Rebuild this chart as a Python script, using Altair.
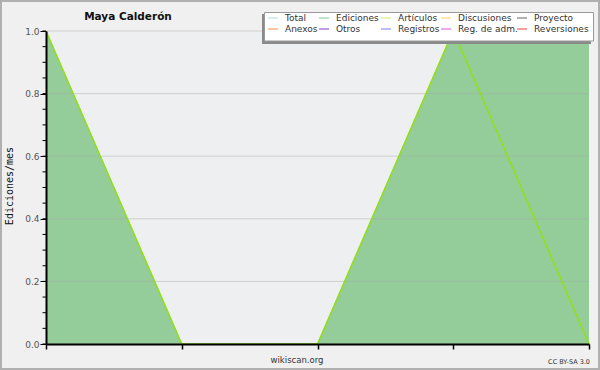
import altair as alt
import pandas as pd

# ---------------- data ----------------
MONTH_INDEX = [0, 1, 2, 3, 4]
EDICIONES = [1.0, 0.0, 0.0, 1.0, 1.0]
ARTICULOS = [1.0, 0.0, 0.0, 1.0, 0.0]
Y_MAJOR = [0.0, 0.2, 0.4, 0.6, 0.8, 1.0]
Y_MINOR = [round(i * 0.05, 2) for i in range(21)]

LEGEND_LABELS = ["Total", "Ediciones", "Artículos", "Discusiones", "Proyecto",
                 "Anexos", "Otros", "Registros", "Reg. de adm.", "Reversiones"]
LEGEND_COLORS = ["#a8dede", "#7fc98c", "#cdee6e", "#ffd066", "#666666",
                 "#ff8a4a", "#8a3acc", "#7a7aee", "#de4ede", "#ee3b3b"]

TITLE = "Maya Calderón"
Y_TITLE = "Ediciones/mes"

# ---------------- layout constants ----------------
W, H = 543, 313
PAD = {"left": 46, "top": 31, "right": 11, "bottom": 26}
COL_SWATCH_X = [222, 273, 335, 395, 471]   # relative to plot origin
ROW_Y = [-13, -2]

df = pd.DataFrame({"i": MONTH_INDEX, "ed": EDICIONES, "art": ARTICULOS})

xs = alt.Scale(domain=[0, 4], nice=False, zero=False)
ys = alt.Scale(domain=[0, 1], nice=False)

FONT = "DejaVu Sans"

one = pd.DataFrame({"a": [0]})

border = alt.Chart(one).mark_rect(fill="#f0f0f0", stroke="#b0b0b0", strokeWidth=2, clip=False).encode(
    x=alt.value(-45), x2=alt.value(553), y=alt.value(-30), y2=alt.value(338)
)
plotbg = alt.Chart(one).mark_rect(fill="#eeeff1", clip=False).encode(
    x=alt.value(0), x2=alt.value(W), y=alt.value(0), y2=alt.value(H)
)

area = alt.Chart(df).mark_area(color="#94cc9a", opacity=1,
                               line={"color": "#7fc48a", "strokeWidth": 1}).encode(
    x=alt.X("i:Q", scale=xs, axis=alt.Axis(values=MONTH_INDEX, labels=False, title=None,
                                           grid=False, tickSize=5, tickColor="black",
                                           tickWidth=1.5, zindex=2,
                                           domainColor="black", domainWidth=2)),
    y=alt.Y("ed:Q", scale=ys, axis=alt.Axis(values=Y_MAJOR, format=".1f", title=None,
                                            grid=False, tickSize=6, zindex=2,
                                            tickColor="black", domainColor="black",
                                            domainWidth=2, labelFont=FONT, labelFontSize=9,
                                            labelColor="#555555", labelPadding=1)),
)

grid = alt.Chart(pd.DataFrame({"v": Y_MAJOR})).mark_rule(color="#a8a8a8", opacity=0.45,
                                                         strokeWidth=1).encode(
    y=alt.Y("v:Q", scale=ys), x=alt.value(0), x2=alt.value(W)
)

line = alt.Chart(df).mark_line(color="#93e015", strokeWidth=1.5).encode(
    x=alt.X("i:Q", scale=xs), y=alt.Y("art:Q", scale=ys)
)

minor = alt.Chart(pd.DataFrame({"v": Y_MINOR})).mark_rule(color="black", clip=False).encode(
    y=alt.Y("v:Q", scale=ys), x=alt.value(-3.5), x2=alt.value(0)
)

# legend
rows = []
for k, (lab, col) in enumerate(zip(LEGEND_LABELS, LEGEND_COLORS)):
    c, r = k % 5, k // 5
    rows.append({"lab": lab, "col": col, "sx": COL_SWATCH_X[c], "sy": ROW_Y[r]})
ldf = pd.DataFrame(rows)

lshadow = alt.Chart(one).mark_rect(fill="#8a8a8a", clip=False).encode(
    x=alt.value(216), x2=alt.value(545), y=alt.value(-17), y2=alt.value(13)
)
lbox = alt.Chart(one).mark_rect(fill="white", stroke="#999999", strokeWidth=1, clip=False).encode(
    x=alt.value(218.5), x2=alt.value(547.5), y=alt.value(-18.5), y2=alt.value(10)
)
lsw = alt.Chart(ldf).mark_rule(strokeWidth=1, clip=False).transform_calculate(
    sx2="datum.sx + 10"
).encode(
    x=alt.X("sx:Q", scale=None), x2="sx2:Q", y=alt.Y("sy:Q", scale=None),
    color=alt.Color("col:N", scale=None)
)
ltx = alt.Chart(ldf).mark_text(align="left", baseline="middle", font=FONT, fontSize=9,
                               color="#333333", clip=False, dx=17).encode(
    x=alt.X("sx:Q", scale=None), y=alt.Y("sy:Q", scale=None), text="lab:N"
)

title = alt.Chart(one).mark_text(text=TITLE, font=FONT, fontSize=10.5, fontWeight="bold",
                                 color="#111111", clip=False).encode(
    x=alt.value(82), y=alt.value(-14)
)
ytitle = alt.Chart(one).mark_text(text=Y_TITLE, font="DejaVu Sans Mono", fontSize=10,
                                  angle=270, color="#111111", clip=False).encode(
    x=alt.value(-36), y=alt.value(155)
)
site = alt.Chart(one).mark_text(text="wikiscan.org", font=FONT, fontSize=8.5,
                                color="#333333", clip=False).encode(
    x=alt.value(251), y=alt.value(16 + H)
)
cc = alt.Chart(one).mark_text(text="CC BY-SA 3.0", font=FONT, fontSize=6.5,
                              color="#333333", clip=False, align="right").encode(
    x=alt.value(544), y=alt.value(18 + H)
)

chart = alt.layer(border, plotbg, area, grid, line, minor, lshadow, lbox, lsw, ltx,
                  title, ytitle, site, cc).properties(
    width=W, height=H, padding=PAD, autosize=alt.AutoSizeParams(type="none"),
    background="#f0f0f0"
).configure_view(stroke=None)

chart.save("out.html", embed_options={"renderer": "svg", "actions": False})
